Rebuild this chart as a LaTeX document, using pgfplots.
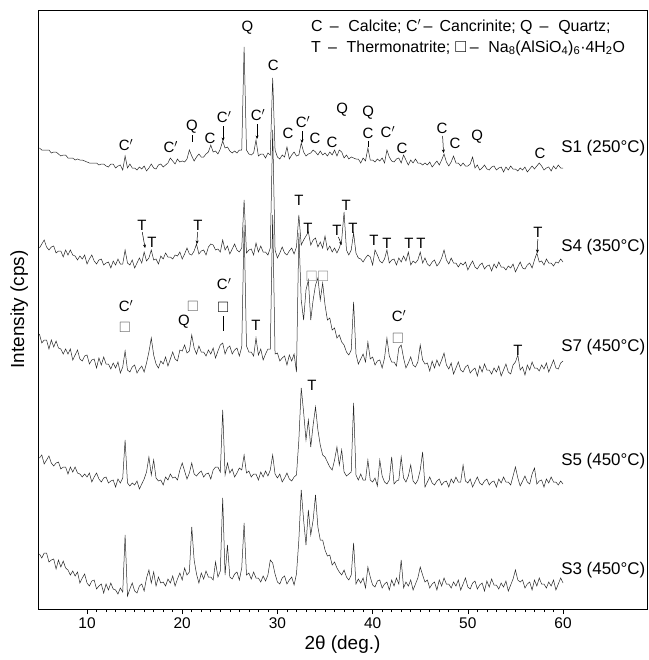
\documentclass[border=0pt]{standalone}
\usepackage{fontspec}
\setmainfont{Liberation Sans}
\usepackage{amssymb}
\usepackage{pgfplots}
\pgfplotsset{compat=1.18}
\usepackage{pgfplotstable}
\usetikzlibrary{arrows.meta}

\pgfplotstableread{
x s1 s4 s7 s5 s3
5.00 148 248 334 458 554
5.25 150 244 343 455 558
5.50 150 240 340 464 553
5.75 150 247 340 460 553
6.00 150 250 349 456 562
6.25 153 247 340 463 560
6.50 152 246 347 466 559
6.75 152 253 341 463 569
7.00 154 251 348 462 560
7.25 156 251 349 469 567
7.50 155 257 354 467 561
7.75 155 250 349 467 568
8.00 158 255 354 474 570
8.25 158 250 349 467 575
8.50 158 255 360 472 571
8.75 160 256 355 467 576
9.00 159 260 350 473 572
9.25 160 256 359 474 583
9.50 160 259 361 477 578
9.75 161 255 356 474 574
10.00 162 264 355 477 583
10.25 163 259 364 473 586
10.50 163 255 360 482 581
10.75 163 261 359 477 580
11.00 163 264 368 473 589
11.25 165 260 358 479 586
11.50 164 259 365 482 584
11.75 164 265 357 478 593
12.00 166 263 364 477 584
12.25 167 262 364 483 590
12.50 164 268 369 481 583
12.75 164 261 363 480 589
13.00 168 265 368 487 590
13.25 166 259 362 479 594
13.50 165 264 373 483 588
13.75 170 264 367 478 592
14.00 156 250 351 440 535
14.25 168 263 370 483 596
14.50 164 265 372 486 589
14.75 168 260 367 483 583
15.00 168 268 365 485 591
15.25 170 263 373 481 593
15.50 167 258 369 489 586
15.75 169 263 366 484 584
16.00 166 252 372 479 591
16.25 171 261 363 472 578
16.50 168 258 352 457 570
16.75 164 250 338 475 583
17.00 168 260 355 460 572
17.25 169 259 364 478 586
17.50 165 264 368 481 577
17.75 164 256 361 480 583
18.00 167 259 364 485 582
18.25 165 253 357 477 586
18.50 163 257 366 480 579
18.75 158 257 359 474 583
19.00 161 259 352 478 576
19.25 164 255 359 477 586
19.50 159 256 361 480 579
19.75 162 252 350 470 573
20.00 161 259 351 463 580
20.25 162 254 345 471 568
20.50 159 248 353 479 575
20.75 150 254 351 473 572
21.00 156 255 335 463 527
21.25 161 251 348 474 560
21.50 157 244 354 476 574
21.75 154 254 346 473 583
22.00 157 251 352 471 573
22.25 157 250 352 477 579
22.50 154 255 356 474 571
22.75 152 247 350 473 577
23.00 145 244 354 479 577
23.25 152 245 348 470 580
23.50 151 250 358 467 562
23.75 154 249 351 467 577
24.00 149 252 345 472 571
24.25 141 240 343 410 498
24.50 148 250 354 475 575
24.75 147 246 348 463 545
25.00 151 254 346 473 577
25.25 153 249 354 469 579
25.50 151 244 350 477 574
25.75 153 250 348 473 572
26.00 150 252 356 468 580
26.25 150 248 347 470 568
26.50 47 200 225 455 523
26.75 150 253 346 473 575
27.00 154 250 352 471 573
27.25 155 249 352 477 579
27.50 153 255 356 474 572
27.75 140 243 338 474 578
28.00 156 252 355 480 578
28.25 154 246 349 472 582
28.50 154 252 360 477 576
28.75 158 252 354 471 581
29.00 153 255 349 476 575
29.25 155 248 349 470 560
29.50 78 130 215 455 563
29.75 150 250 354 474 574
30.00 157 258 353 478 582
30.25 159 253 361 474 584
30.50 155 247 358 482 578
30.75 157 253 356 478 576
31.00 147 255 365 473 584
31.25 159 251 355 479 580
31.50 155 248 361 481 577
31.75 152 254 354 477 585
32.00 156 247 372 475 574
32.25 155 215 233 440 540
32.50 143 245 300 388 490
32.75 152 240 320 412 520
33.00 156 236 290 440 545
33.25 154 232 280 420 510
33.50 153 245 320 447 535
33.75 150 240 300 425 520
34.00 152 238 285 407 495
34.25 155 247 278 430 527
34.50 151 242 300 445 540
34.75 155 248 283 455 540
35.00 153 236 305 457 550
35.25 156 250 320 462 556
35.50 152 246 318 467 555
35.75 155 252 330 470 565
36.00 150 248 328 460 562
36.25 156 253 338 447 568
36.50 150 248 335 465 572
36.75 152 240 342 450 575
37.00 158 212 345 472 570
37.25 155 250 352 476 577
37.50 159 255 355 474 580
37.75 157 250 350 472 575
38.00 158 233 302 403 543
38.25 159 253 354 475 584
38.50 159 258 364 480 579
38.75 163 259 359 474 583
39.00 158 262 354 480 578
39.25 161 258 362 480 588
39.50 148 255 342 460 567
39.75 160 257 359 480 577
40.00 160 265 357 482 585
40.25 162 250 365 478 587
40.50 159 255 361 486 581
40.75 161 261 360 460 580
41.00 158 263 368 476 588
41.25 163 259 358 482 584
41.50 150 250 338 484 582
41.75 157 263 356 480 590
42.00 161 260 362 457 580
42.25 162 259 362 484 586
42.50 159 265 366 481 578
42.75 158 258 348 480 584
43.00 163 262 345 457 560
43.25 155 256 358 478 588
43.50 160 261 368 482 582
43.75 165 252 363 476 586
44.00 160 265 357 465 580
44.25 163 261 365 481 590
44.50 159 263 367 484 584
44.75 163 260 362 480 578
45.00 163 252 345 470 567
45.25 165 263 360 452 575
45.50 163 258 364 487 582
45.75 165 264 363 482 580
46.00 162 266 371 477 588
46.25 167 262 361 483 584
46.50 164 260 368 485 582
46.75 161 266 360 481 590
47.00 165 263 366 479 580
47.25 160 258 360 485 586
47.50 154 250 353 482 578
47.75 162 260 365 481 584
48.00 166 264 369 487 584
48.25 162 258 363 479 588
48.50 156 263 374 483 582
48.75 163 263 368 477 586
49.00 163 267 362 482 580
49.25 166 263 370 482 590
49.50 163 265 372 465 584
49.75 166 262 367 481 578
50.00 166 270 365 483 587
50.25 164 265 373 479 589
50.50 157 261 370 487 583
50.75 168 267 368 482 581
51.00 165 269 376 477 589
51.25 170 265 366 483 585
51.50 168 263 372 485 583
51.75 165 269 364 481 591
52.00 169 266 370 479 581
52.25 170 265 370 485 587
52.50 167 271 374 482 579
52.75 166 264 368 481 585
53.00 170 268 372 487 585
53.25 168 262 366 479 589
53.50 167 267 376 483 583
53.75 172 267 370 477 587
54.00 167 270 364 482 581
54.25 170 266 372 482 591
54.50 166 268 374 485 585
54.75 169 264 365 476 579
55.00 169 272 362 467 570
55.25 171 267 355 478 580
55.50 168 262 370 486 582
55.75 170 268 367 481 580
56.00 167 269 375 476 588
56.25 172 265 365 482 584
56.50 169 263 370 484 582
56.75 166 268 362 474 590
57.00 169 260 368 468 580
57.25 166 253 368 484 586
57.50 163 262 371 481 578
57.75 166 261 365 480 584
58.00 170 265 369 487 584
58.25 168 259 363 479 588
58.50 167 263 372 483 582
58.75 171 263 366 477 586
59.00 166 266 360 482 580
59.25 169 262 368 482 590
59.50 165 263 369 485 584
59.75 168 259 363 481 578
60.00 168 262 361 484 583
}\xrd

\newcommand{\Cp}{C$'$}
\newcommand{\sq}{$\square$}

\begin{document}
\begin{tikzpicture}[
  lab/.style={font=\fontsize{15}{17}\selectfont, inner sep=0pt, anchor=center},
  slab/.style={font=\fontsize{17}{20}\selectfont, inner sep=0pt, anchor=west},
  arr/.style={-{Stealth[length=3.5bp,width=3bp]}, line width=0.5bp},
]
\begin{axis}[
  scale only axis, width=609bp, height=599bp,
  xmin=4.85, xmax=68.82, ymin=10, ymax=609, y dir=reverse,
  xtick={10,20,...,60}, minor x tick num=9,
  ytick=\empty,
  xtick pos=bottom, tick align=outside,
  major tick length=5bp, minor tick length=3bp,
  every tick/.style={black, line width=0.6bp},
  tick label style={font=\fontsize{15.5}{18}\selectfont},
  /pgf/number format/assume math mode=true,
  xlabel={2θ (deg.)}, ylabel={Intensity (cps)},
  label style={font=\fontsize{19}{22}\selectfont},
  ylabel style={at={(axis description cs:-0.031,0.5)}, anchor=center},
  axis line style={line width=0.8bp},
]
\addplot[black!85, line width=0.5bp] table[x=x, y=s1] {\xrd};
\addplot[black!85, line width=0.5bp] table[x=x, y=s4] {\xrd};
\addplot[black!85, line width=0.5bp] table[x=x, y=s7] {\xrd};
\addplot[black!85, line width=0.5bp] table[x=x, y=s5] {\xrd};
\addplot[black!85, line width=0.5bp] table[x=x, y=s3] {\xrd};

% legend text
\node[font=\fontsize{16}{19}\selectfont, inner sep=0pt, anchor=base west] at (axis cs:33.53,32) {C \,–\,\, Calcite; \Cp\,– \,Cancrinite; Q \,–\,\, Quartz;};
\node[font=\fontsize{16}{19}\selectfont, inner sep=0pt, anchor=base west] at (axis cs:33.53,52) {T \,–\,\, Thermonatrite; \sq\,–\,\, Na\textsubscript{8}(AlSiO\textsubscript{4})\textsubscript{6}·4H\textsubscript{2}O};

% sample labels
\node[slab] at (axis cs:59.8,148) {S1 (250°C)};
\node[slab] at (axis cs:59.8,247) {S4 (350°C)};
\node[slab] at (axis cs:59.8,347) {S7 (450°C)};
\node[slab] at (axis cs:59.8,461) {S5 (450°C)};
\node[slab] at (axis cs:59.8,570) {S3 (450°C)};

% S1 annotations
\node[lab] at (axis cs:26.85,28) {Q};
\node[lab] at (axis cs:29.57,65) {C};
\node[lab] at (axis cs:14.1,145) {\Cp};
\node[lab] at (axis cs:18.8,147) {\Cp};
\node[lab] at (axis cs:21.03,127) {Q};
\draw[line width=0.5bp] (axis cs:21.03,135) -- (axis cs:21.03,142);
\node[lab] at (axis cs:22.92,138) {C};
\node[lab] at (axis cs:24.4,117) {\Cp};
\draw[arr] (axis cs:24.29,126) -- (axis cs:24.29,141);
\node[lab] at (axis cs:27.95,115) {\Cp};
\draw[arr] (axis cs:27.86,124) -- (axis cs:27.86,139);
\node[lab] at (axis cs:31.11,133) {C};
\node[lab] at (axis cs:32.68,122) {\Cp};
\draw[arr] (axis cs:32.58,131) -- (axis cs:32.58,143);
\node[lab] at (axis cs:33.95,138) {C};
\node[lab] at (axis cs:35.74,142) {C};
\node[lab] at (axis cs:36.79,110) {Q};
\node[lab] at (axis cs:39.52,113) {Q};
\node[lab] at (axis cs:39.52,133) {C};
\draw[line width=0.5bp] (axis cs:39.52,141) -- (axis cs:39.52,147);
\node[lab] at (axis cs:41.6,132) {\Cp};
\node[lab] at (axis cs:43.09,148) {C};
\node[lab] at (axis cs:47.29,128) {C};
\draw[arr] (axis cs:47.35,136) -- (axis cs:47.45,153);
\node[lab] at (axis cs:48.66,143) {C};
\node[lab] at (axis cs:50.97,137) {Q};
\node[lab] at (axis cs:57.58,153) {C};

% S4 annotations
\node[lab] at (axis cs:15.78,225) {T};
\draw[arr] (axis cs:15.8,232) -- (axis cs:16.1,248);
\node[lab] at (axis cs:16.83,242) {T};
\node[lab] at (axis cs:21.66,225) {T};
\draw[arr] (axis cs:21.6,232) -- (axis cs:21.55,244);
\node[lab] at (axis cs:32.27,200) {T};
\node[lab] at (axis cs:33.21,228) {T};
\node[lab] at (axis cs:36.26,230) {T};
\draw[arr] (axis cs:36.4,237) -- (axis cs:36.75,245);
\node[lab] at (axis cs:37.21,205) {T};
\node[lab] at (axis cs:37.94,228) {T};
\node[lab] at (axis cs:40.15,240) {T};
\node[lab] at (axis cs:41.51,243) {T};
\node[lab] at (axis cs:43.82,243) {T};
\node[lab] at (axis cs:45.08,243) {T};
\node[lab] at (axis cs:57.37,232) {T};
\draw[arr] (axis cs:57.35,239) -- (axis cs:57.3,253);

% S7 annotations
\node[lab] at (axis cs:14.1,306) {\Cp};
\node[lab, text=black!60] at (axis cs:13.99,327) {\sq};
\node[lab] at (axis cs:20.19,322) {Q};
\node[lab, text=black!60] at (axis cs:21.13,306) {\sq};
\node[lab] at (axis cs:24.4,284) {\Cp};
\node[lab] at (axis cs:24.29,307) {\sq};
\draw[line width=0.5bp] (axis cs:24.29,316) -- (axis cs:24.29,331);
\node[lab] at (axis cs:27.75,325) {T};
\node[lab, text=black!45] at (axis cs:33.6,276) {\sq};
\node[lab, text=black!45] at (axis cs:34.8,276) {\sq};
\node[lab] at (axis cs:42.77,316) {\Cp};
\node[lab, text=black!60] at (axis cs:42.67,338) {\sq};
\node[lab] at (axis cs:55.27,350) {T};

% S5 annotation
\node[lab] at (axis cs:33.63,385) {T};
\end{axis}
\pgfresetboundingbox
\path ([shift={(-38bp,-51bp)}]current axis.south west) rectangle ([shift={(2bp,10bp)}]current axis.north east);
\end{tikzpicture}
\end{document}
